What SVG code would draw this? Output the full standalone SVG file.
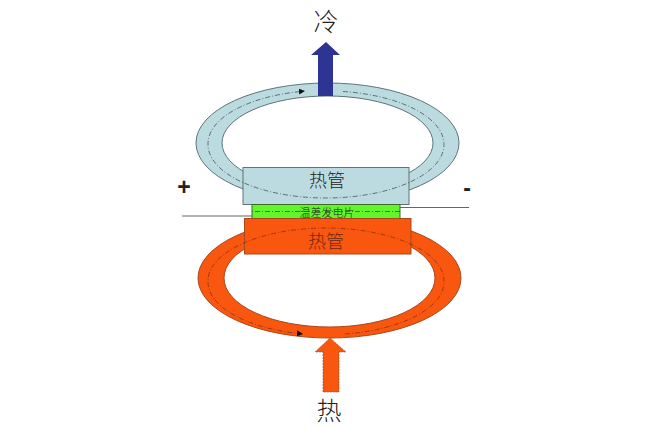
<svg xmlns="http://www.w3.org/2000/svg" width="672" height="429" viewBox="0 0 672 429">
<defs>
<style>
text{font-family:"Noto Sans CJK SC","Liberation Sans",sans-serif;text-anchor:middle;fill:#222;font-weight:300}
.cool{fill:#bcdbe0;stroke:#5f7378;stroke-width:1}
.hot{fill:#f9560f;stroke:#a8481c;stroke-width:1}
.ring{fill-rule:evenodd}
.flow{fill:none;stroke:#2f3f48;stroke-width:.7;stroke-dasharray:5 2 1 2}
.hotflow{stroke:#7a2c10}
.wire{fill:none;stroke:#666;stroke-width:1}
.sign{font-family:"Liberation Sans",sans-serif;font-weight:700;font-size:23px}
</style>
<marker id="head" markerWidth="7" markerHeight="7" refX="5" refY="3" orient="auto" markerUnits="userSpaceOnUse"><path d="M0 0L6 3L0 6Z" fill="#111"/></marker>
</defs>
<rect width="672" height="429" fill="#fff"/>
<g id="cold-ring"><path class="cool ring" d="M196 143a131.500 60 0 1 0 263 0a131.500 60 0 1 0-263 0ZM222 143a105.500 47 0 1 0 211 0a105.500 47 0 1 0-211 0Z"/></g>
<g id="hot-ring"><path class="hot ring" d="M198 278a131.500 60 0 1 0 263 0a131.500 60 0 1 0-263 0ZM224 278a105.500 49 0 1 0 211 0a105.500 49 0 1 0-211 0Z"/></g>
<g id="wires">
<path class="wire" d="M182 216H252M400 207.500H469"/>
</g>
<g id="cold-pipe"><rect class="cool" x="243" y="167.500" width="166" height="37"/><text x="327" y="187" font-size="18">热管</text></g>
<g id="module"><rect x="252" y="204.500" width="148" height="14.500" fill="#63f52c" stroke="#3c6b2a"/><text x="327" y="216.500" font-size="11">温差发电片</text></g>
<g id="hot-pipe"><rect class="hot" x="244.500" y="218.500" width="166.500" height="35.500"/><text x="326" y="248" font-size="18" style="fill:#6b2a12">热管</text></g>
<g id="connectors">
<path class="flow" marker-end="url(#head)" d="M343 91.500A118 53.500 0 0 1 444 144.500A118 53.500 0 0 1 326 198A118 53.500 0 0 1 208 144.500A118 53.500 0 0 1 304 91.200"/>
<path class="flow" d="M400 211.500H252"/>
<path class="flow hotflow" marker-end="url(#head)" d="M345 334A118 53 0 0 0 444 281A118 53 0 0 0 326 228A118 53 0 0 0 208 281A118 53 0 0 0 302 333.800"/>
</g>
<g id="cold-arrow"><path d="M318 96V55H311L326 42L340 55H333V96Z" fill="#2d3494"/></g>
<g id="hot-arrow"><path d="M323 392V352H315L330 338L346 352H339V392Z" fill="#f9560f" stroke="#8a4a2a" stroke-width=".6" stroke-dasharray="2 1"/></g>
<g id="labels">
<text x="326" y="31" font-size="25">冷</text>
<text x="329" y="420" font-size="25">热</text>
<text class="sign" x="184" y="195">+</text>
<text class="sign" x="467" y="196">-</text>
</g>
</svg>
